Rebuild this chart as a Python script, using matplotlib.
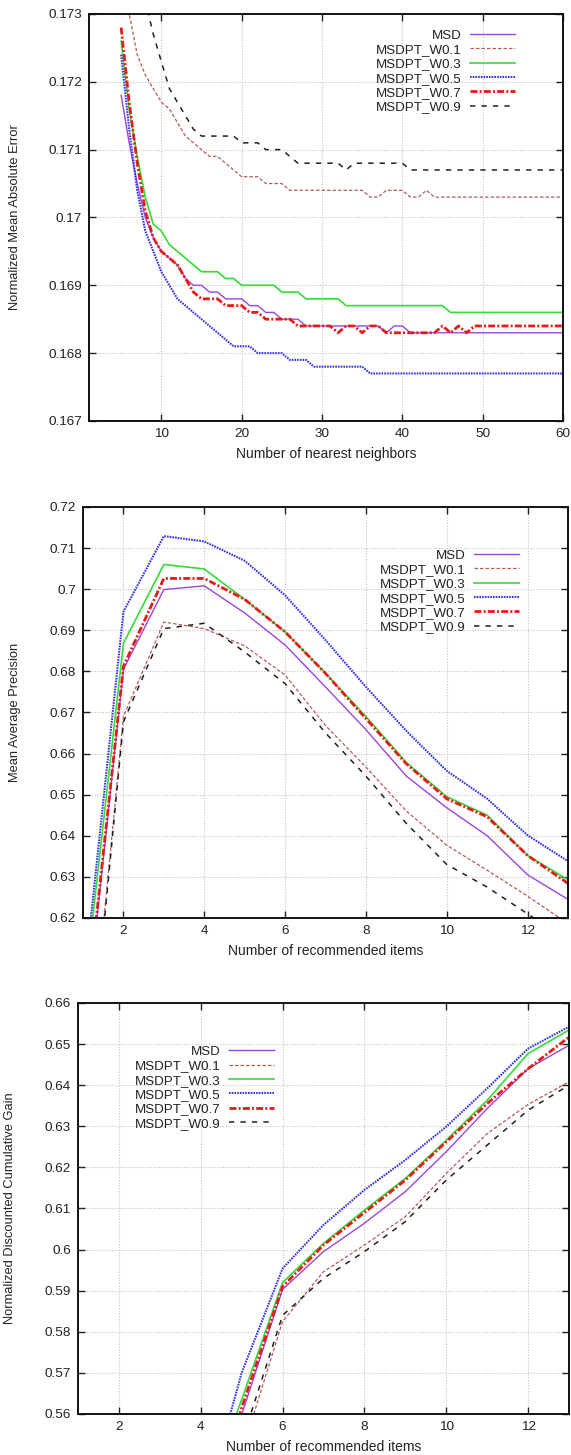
import numpy as np
import matplotlib
matplotlib.use('Agg')
import matplotlib.pyplot as plt
from matplotlib.ticker import FuncFormatter

plt.rcParams['font.family'] = ['Liberation Sans', 'DejaVu Sans']
plt.rcParams['text.color'] = '#222222'
plt.rcParams['axes.labelcolor'] = '#222222'
plt.rcParams['xtick.color'] = '#222222'
plt.rcParams['ytick.color'] = '#222222'

series_names = ['MSD', 'MSDPT_W0.1', 'MSDPT_W0.3', 'MSDPT_W0.5', 'MSDPT_W0.7', 'MSDPT_W0.9']

# --- MAE vs number of neighbours (k = 5..60)
k_neighbors = list(range(5, 61))
mae_msd = [0.1718, 0.1711, 0.1705, 0.1700, 0.1697, 0.1695, 0.1694, 0.1693, 0.1691, 0.1690,
           0.1690, 0.1689, 0.1689, 0.1688, 0.1688, 0.1688, 0.1687, 0.1687, 0.1686, 0.1686,
           0.1685, 0.1685, 0.1685, 0.1684] + [0.1684] * 9 + [0.1683, 0.1684, 0.1684] + [0.1683] * 20
mae_w01 = [0.1737, 0.1730, 0.1724, 0.1721, 0.1719, 0.1717, 0.1716, 0.1714, 0.1712, 0.1711,
           0.1710, 0.1709, 0.1709, 0.1708, 0.1707, 0.1706, 0.1706, 0.1706, 0.1705, 0.1705,
           0.1705] + [0.1704] * 10 + [0.1703, 0.1703, 0.1704, 0.1704, 0.1704, 0.1703, 0.1703,
                                      0.1704] + [0.1703] * 17
mae_w03 = [0.1726, 0.1716, 0.1709, 0.1703, 0.1699, 0.1698, 0.1696, 0.1695, 0.1694, 0.1693,
           0.1692, 0.1692, 0.1692, 0.1691, 0.1691] + [0.1690] * 5 + [0.1689] * 3 + \
          [0.1688] * 5 + [0.1687] * 13 + [0.1686] * 15
mae_w05 = [0.1724, 0.1713, 0.1704, 0.1698, 0.1695, 0.1692, 0.1690, 0.1688, 0.1687, 0.1686,
           0.1685, 0.1684, 0.1683, 0.1682, 0.1681, 0.1681, 0.1681, 0.1680, 0.1680, 0.1680,
           0.1680, 0.1679, 0.1679, 0.1679] + [0.1678] * 7 + [0.1677] * 25
mae_w07 = [0.1728, 0.1717, 0.1708, 0.1701, 0.1697, 0.1695, 0.1694, 0.1693, 0.1691, 0.1689,
           0.1688, 0.1688, 0.1688, 0.1687, 0.1687, 0.1687, 0.1686, 0.1686, 0.1685, 0.1685,
           0.1685, 0.1685] + [0.1684] * 5 + [0.1683, 0.1684, 0.1684, 0.1683, 0.1684, 0.1684] + \
          [0.1683] * 7 + [0.1684, 0.1683, 0.1684, 0.1683] + [0.1684] * 12
mae_w09 = [0.1750, 0.1742, 0.1736, 0.1732, 0.1727, 0.1723, 0.1719, 0.1717, 0.1715, 0.1713] + \
          [0.1712] * 5 + [0.1711] * 3 + [0.1710] * 3 + [0.1709] + [0.1708] * 6 + [0.1707] + \
          [0.1708] * 7 + [0.1707] * 20

# --- MAP vs number of recommended items (1..13)
n_items_map = list(range(1, 14))
map_msd = [0.588, 0.6805, 0.6999, 0.7008, 0.6942, 0.6864, 0.6762, 0.6658, 0.6545, 0.6468, 0.6400, 0.6305, 0.6245]
map_w01 = [0.567, 0.6690, 0.6920, 0.6904, 0.6862, 0.6791, 0.6668, 0.6567, 0.6460, 0.6377, 0.6316, 0.6253, 0.6186]
map_w03 = [0.599, 0.6868, 0.7060, 0.7049, 0.6975, 0.6896, 0.6795, 0.6690, 0.6578, 0.6495, 0.6450, 0.6352, 0.6293]
map_w05 = [0.602, 0.6945, 0.7129, 0.7116, 0.7069, 0.6985, 0.6876, 0.6762, 0.6655, 0.6558, 0.6490, 0.6401, 0.6338]
map_w07 = [0.590, 0.6812, 0.7026, 0.7026, 0.6975, 0.6896, 0.6795, 0.6685, 0.6575, 0.6490, 0.6446, 0.6352, 0.6284]
map_w09 = [0.565, 0.6677, 0.6904, 0.6917, 0.6847, 0.6770, 0.6650, 0.6545, 0.6430, 0.6330, 0.6275, 0.6210, 0.6145]

# --- NDCG vs number of recommended items (4..13)
n_items_ndcg = list(range(4, 14))
ndcg_msd = [0.530, 0.5598, 0.5903, 0.5995, 0.6064, 0.6141, 0.6238, 0.6343, 0.6440, 0.6497]
ndcg_w01 = [0.520, 0.5505, 0.5825, 0.5946, 0.6011, 0.6080, 0.6185, 0.6282, 0.6353, 0.6408]
ndcg_w03 = [0.536, 0.5635, 0.5920, 0.6015, 0.6096, 0.6173, 0.6266, 0.6363, 0.6477, 0.6534]
ndcg_w05 = [0.534, 0.5700, 0.5954, 0.6060, 0.6145, 0.6218, 0.6299, 0.6392, 0.6489, 0.6542]
ndcg_w07 = [0.530, 0.5615, 0.5910, 0.6011, 0.6090, 0.6169, 0.6262, 0.6355, 0.6440, 0.6517]
ndcg_w09 = [0.520, 0.5532, 0.5840, 0.5930, 0.5995, 0.6068, 0.6169, 0.6254, 0.6339, 0.6400]

# gnuplot-like line styles
styles = [
    dict(color='#9b45dd', lw=1.0),
    dict(color='#b45c5c', lw=0.9, dashes=(2.8, 1.6)),
    dict(color='#33dd33', lw=1.2),
    dict(color='#3535e6', lw=1.5, dashes=(0.8, 0.5)),
    dict(color='#e61a1a', lw=2.0, dashes=(2.5, 0.8, 0.7, 0.8)),
    dict(color='#202020', lw=1.1, dashes=(3.5, 4)),
]


def style_axes(ax, xlim, ylim, xticks, yticks):
    ax.set_xlim(*xlim)
    ax.set_ylim(*ylim)
    ax.set_xticks(xticks)
    ax.set_yticks(yticks)
    ax.yaxis.set_major_formatter(FuncFormatter(lambda v, p: '%g' % round(v, 4)))
    ax.tick_params(direction='in', length=5, width=1, top=True, right=True,
                   labelsize=9.7, pad=5)
    ax.grid(True, color='#c4c4c4', lw=0.8, linestyle=(0, (1, 1.5)))
    for s in ax.spines.values():
        s.set_linewidth(1.4)
        s.set_color('#111111')


def draw(ax, x, ys, legend_anchor):
    for name, y, st in zip(series_names, ys, styles):
        ax.plot(x, y, label=name, **st)
    ax.legend(loc='upper right', bbox_to_anchor=legend_anchor, frameon=False,
              markerfirst=False, fontsize=9.6, handlelength=3.4, handletextpad=0.6,
              labelspacing=0.15, borderpad=0, borderaxespad=0)


fig = plt.figure(figsize=(5.71, 14.55), dpi=100)

ax1 = fig.add_axes([0.1559, 0.7107, 0.8301, 0.2797])
draw(ax1, k_neighbors, [mae_msd, mae_w01, mae_w03, mae_w05, mae_w07, mae_w09], (0.899, 0.962))
style_axes(ax1, (1, 60), (0.167, 0.173), range(10, 61, 10), np.arange(0.167, 0.17301, 0.001))
ax1.set_xlabel('Number of nearest neighbors', fontsize=10)
ax1.set_ylabel('Normalized Mean Absolute Error', fontsize=9.3)
ax1.xaxis.set_label_coords(0.5, -0.064)
ax1.yaxis.set_label_coords(-0.143, 0.5)

ax2 = fig.add_axes([0.1454, 0.3691, 0.8494, 0.2825])
draw(ax2, n_items_map, [map_msd, map_w01, map_w03, map_w05, map_w07, map_w09], (0.899, 0.897))
style_axes(ax2, (1, 13), (0.62, 0.72), range(2, 13, 2), np.arange(0.62, 0.7201, 0.01))
ax2.set_xlabel('Number of recommended items', fontsize=10)
ax2.set_ylabel('Mean Average Precision', fontsize=9.3)
ax2.xaxis.set_label_coords(0.5, -0.063)
ax2.yaxis.set_label_coords(-0.128, 0.5)

ax3 = fig.add_axes([0.1366, 0.0282, 0.8599, 0.2825])
draw(ax3, n_items_ndcg, [ndcg_msd, ndcg_w01, ndcg_w03, ndcg_w05, ndcg_w07, ndcg_w09], (0.399, 0.896))
style_axes(ax3, (1, 13), (0.56, 0.66), range(2, 13, 2), np.arange(0.56, 0.6601, 0.01))
ax3.set_xlabel('Number of recommended items', fontsize=10)
ax3.set_ylabel('Normalized Discounted Cumulative Gain', fontsize=9.3)
ax3.xaxis.set_label_coords(0.5, -0.063)
ax3.yaxis.set_label_coords(-0.126, 0.5)

plt.savefig('out.png', dpi=100)
